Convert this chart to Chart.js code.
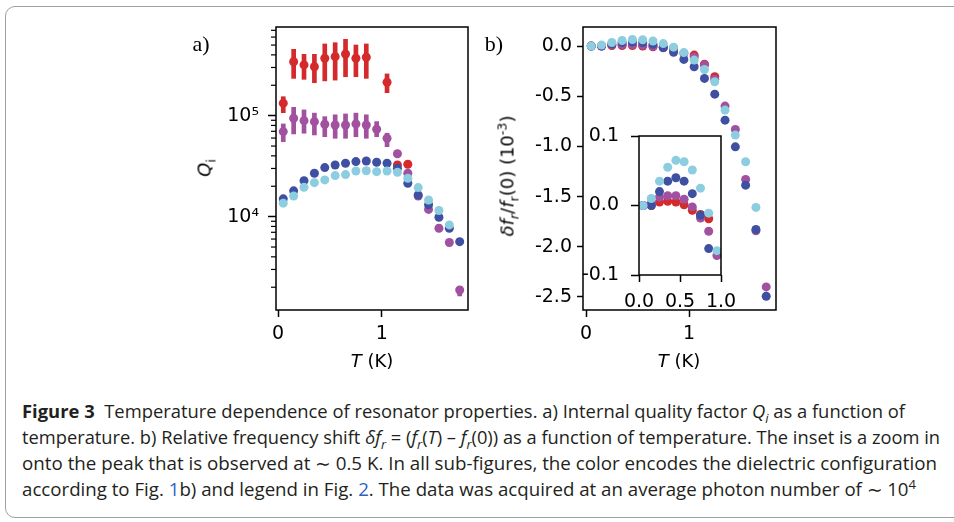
<!DOCTYPE html>
<html>
<head>
<meta charset="utf-8">
<script src="https://cdn.jsdelivr.net/npm/chart.js@4.4.1/dist/chart.umd.min.js"></script>
<style>
  body { margin:0; background:#fff; }
  #page { position:relative; width:954px; height:522px; overflow:hidden; background:#fff; }
  #frame { position:absolute; left:5px; top:6px; width:1000px; height:512px; border:1px solid #a0a0a0; border-radius:10px; box-sizing:border-box; }
  canvas { position:absolute; }
  .t { position:absolute; transform:translate(-50%,-50%); font-family:"DejaVu Sans"; font-size:18px; white-space:nowrap; color:#000; }
  .rot { transform:translate(-50%,-50%) rotate(-90deg); }
  .pl { font-family:"Liberation Serif"; font-size:22px; }
  .cap { position:absolute; left:22px; font-family:"Open Sans"; font-size:18px; line-height:26px; white-space:nowrap; color:#231f20; transform-origin:0 50%; }
  sub, sup { font-size:70%; line-height:0; }
  .lk { color:#2f62c4; }
</style>
</head>
<body>
<div id="page">
  <div id="frame"></div>
  <canvas id="chartA" width="290" height="350" style="left:190px;top:10px"></canvas>
  <canvas id="chartB" width="290" height="350" style="left:500px;top:10px"></canvas>
  <canvas id="chartIn" width="175" height="204" style="left:568px;top:114px"></canvas>

  <div class="t pl" style="left:201px;top:44px">a)</div>
  <div class="t pl" style="left:494px;top:44px">b)</div>
  <div class="t rot" style="left:204px;top:168px"><i>Q</i><sub>i</sub></div>
  <div class="t" style="left:372px;top:360px"><i>T</i> (K)</div>
  <div class="t" style="left:679px;top:360px"><i>T</i> (K)</div>
  <div class="t rot" style="left:507px;top:176px"><i>δf</i><sub><i>r</i></sub>/<i>f</i><sub>r</sub>(0) (10<sup>-3</sup>)</div>

  <div class="cap" style="top:398px"><b>Figure 3</b>&nbsp; Temperature dependence of resonator properties. a) Internal quality factor <i>Q<sub>i</sub></i> as a function of</div>
  <div class="cap" style="top:424px">temperature. b) Relative frequency shift <i>δf<sub>r</sub></i> = (<i>f<sub>r</sub></i>(<i>T</i>) – <i>f<sub>r</sub></i>(0)) as a function of temperature. The inset is a zoom in</div>
  <div class="cap" style="top:450px">onto the peak that is observed at ∼ 0.5 K. In all sub-figures, the color encodes the dielectric configuration</div>
  <div class="cap" style="top:476px">according to Fig. <span class="lk">1</span>b) and legend in Fig. <span class="lk">2</span>. The data was acquired at an average photon number of ∼ 10<sup>4</sup></div>
</div>
<script>
// temperatures (K), shared by all series
const temps = [0.05,0.15,0.25,0.35,0.45,0.55,0.65,0.75,0.85,0.95,1.05,1.15,1.25,1.35,1.45,1.55,1.65,1.75];

// panel a: internal quality factor
const qRed      = [1.33e5,3.42e5,3.18e5,3.05e5,3.70e5,3.84e5,4.08e5,3.70e5,3.79e5,null,2.14e5,3.25e4,3.30e4,null,null,null,null,null];
const qRedLo    = [1.07e5,2.34e5,2.29e5,2.12e5,2.21e5,2.25e5,2.43e5,2.43e5,2.34e5,null,1.69e5];
const qRedHi    = [1.54e5,4.54e5,4.05e5,4.05e5,5.13e5,5.28e5,5.70e5,5.01e5,5.13e5,null,2.59e5];
const qPurple   = [6.95e4,9.43e4,8.92e4,8.72e4,8.22e4,8.09e4,8.09e4,8.28e4,8.09e4,7.33e4,5.97e4,4.20e4,2.69e4,1.60e4,1.18e4,7.67e3,5.54e3,1.88e3];
const qPurpleLo = [5.53e4,6.59e4,6.70e4,6.44e4,6.19e4,5.97e4,5.97e4,6.19e4,5.97e4,6.19e4,4.93e4,null,null,null,null,null,null,1.64e3];
const qPurpleHi = [8.28e4,1.21e5,1.14e5,1.06e5,9.77e4,1.02e5,1.04e5,1.06e5,1.02e5,8.73e4,6.70e4,null,null,null,null,null,null,1.95e3];
const qDark     = [1.50e4,1.80e4,2.27e4,2.69e4,3.06e4,3.25e4,3.38e4,3.51e4,3.56e4,3.46e4,3.38e4,3.01e4,2.14e4,1.64e4,1.31e4,9.87e3,7.67e3,5.65e3];
const qLight    = [1.36e4,1.60e4,1.95e4,2.17e4,2.31e4,2.55e4,2.61e4,2.83e4,2.85e4,2.79e4,2.83e4,2.75e4,2.40e4,1.94e4,1.46e4,1.15e4,8.28e3,null];

// panel b: relative frequency shift (1e-3)
const dfRed    = [0.0,0.0,0.005,0.006,0.005,0.001,-0.007,-0.013,-0.019,null,-0.090,-0.180,-0.306,null,null,null,null,null];
const dfPurple = [0.0,0.003,0.012,0.014,0.014,0.009,-0.002,-0.018,-0.037,-0.072,-0.110,-0.189,-0.330,-0.598,-0.831,-1.329,-1.841,-2.400];
const dfDark   = [0.0,0.0,0.020,0.035,0.040,0.035,0.017,-0.014,-0.062,-0.133,-0.206,-0.322,-0.479,-0.738,-1.004,-1.386,-1.828,-2.493];
const dfLight  = [0.0,0.010,0.035,0.055,0.065,0.063,0.051,0.025,-0.011,-0.065,-0.140,-0.233,-0.356,-0.638,-0.887,-1.153,-1.608,null];

// ticks
const tTicks = [0, 1];
const tLabels = ['0', '1'];
const qTicks = [1e4, 1e5];
const qLabels = ['10⁴', '10⁵'];
const qMinor = [2e3,3e3,4e3,5e3,6e3,7e3,8e3,9e3,2e4,3e4,4e4,5e4,6e4,7e4,8e4,9e4,2e5,3e5,4e5,5e5,6e5,7e5];
const dfTicks = [0, -0.5, -1, -1.5, -2, -2.5];
const dfLabels = ['0.0', '-0.5', '-1.0', '-1.5', '-2.0', '-2.5'];
const inTTicks = [0, 0.5, 1];
const inTLabels = ['0.0', '0.5', '1.0'];
const inDfTicks = [-0.1, 0, 0.1];
const inDfLabels = ['-0.1', '0.0', '0.1'];

const cRed = '#d42a2c', cPurple = '#a1519f', cDark = '#3f50a3', cLight = '#8ccde0';
const tickFont = {family: 'DejaVu Sans', size: 19};

function pts(ys) {
  return temps.map((t, i) => ({x: t, y: ys[i]})).filter(p => p.y != null);
}
function bars(lo, hi) {
  return temps.map((t, i) => ({x: t, y: [lo[i], hi[i]]})).filter(p => p.y[0] != null);
}
function sc(data, color, clip) {
  return {type: 'scatter', data, backgroundColor: color, borderWidth: 0, pointRadius: 4.5, pointHoverRadius: 4.5, clip};
}
function eb(data, color) {
  return {type: 'bar', data, backgroundColor: color, barThickness: 4, grouped: false, clip: false};
}

function axis(o) {
  return {
    type: o.type || 'linear',
    position: o.position,
    min: o.min, max: o.max, offset: false, beginAtZero: false,
    afterBuildTicks: s => { s.ticks = o.ticks.map(v => ({value: v})); },
    // fixed axis size, and no extra room for end labels: layout padding decides
    afterFit: s => {
      if (o.position === 'left') { s.width = o.size; s.paddingTop = 0; s.paddingBottom = 0; }
      else { s.height = o.size; s.paddingLeft = 0; s.paddingRight = 0; }
    },
    border: {display: false},
    grid: {offset: false, drawOnChartArea: false, drawTicks: true, tickLength: o.tickLength, tickWidth: 1.5, tickColor: '#000'},
    ticks: {font: tickFont, color: '#000', padding: o.padding, maxRotation: 0, autoSkip: false, callback: (v, i) => o.labels[i]}
  };
}

// box round the plot area, taken from the scales
const frame = {
  id: 'frame',
  beforeDraw(chart, args, opts) {
    if (!opts.fill) return;
    const x = chart.scales.x, y = chart.scales.y, ctx = chart.ctx;
    ctx.save(); ctx.fillStyle = '#fff'; ctx.fillRect(x.left, y.top, x.right - x.left, y.bottom - y.top); ctx.restore();
  },
  afterDraw(chart) {
    const x = chart.scales.x, y = chart.scales.y, ctx = chart.ctx;
    ctx.save(); ctx.strokeStyle = '#000'; ctx.lineWidth = 1.5; ctx.setLineDash([]);
    ctx.beginPath();
    ctx.rect(x.left, y.top, x.right - x.left, y.bottom - y.top);
    ctx.stroke(); ctx.restore();
  }
};

const minorTicks = {
  id: 'minorTicks',
  afterDraw(chart) {
    const s = chart.scales.y, ctx = chart.ctx;
    ctx.save(); ctx.strokeStyle = '#000'; ctx.lineWidth = 1.2;
    qMinor.forEach(v => {
      const y = s.getPixelForValue(v);
      ctx.beginPath(); ctx.moveTo(s.right - 5, y); ctx.lineTo(s.right, y); ctx.stroke();
    });
    ctx.restore();
  }
};

const base = {responsive: false, animation: false, events: []};

new Chart(document.getElementById('chartA'), {
  type: 'scatter',
  data: {datasets: [
    sc(pts(qLight), cLight, false),
    sc(pts(qDark), cDark, false),
    sc(pts(qPurple), cPurple, false),
    eb(bars(qPurpleLo, qPurpleHi), cPurple),
    sc(pts(qRed), cRed, false),
    eb(bars(qRedLo, qRedHi), cRed)
  ]},
  options: Object.assign({}, base, {
    layout: {padding: {left: 0, top: 17, right: 12, bottom: 0}},
    plugins: {legend: {display: false}, tooltip: {enabled: false}, frame: {}},
    scales: {
      x: axis({position: 'bottom', min: -0.02, max: 1.83, ticks: tTicks, labels: tLabels, size: 50, tickLength: 7, padding: 6}),
      y: axis({type: 'logarithmic', position: 'left', min: 1190, max: 7.55e5, ticks: qTicks, labels: qLabels, size: 86, tickLength: 8, padding: 9})
    }
  }),
  plugins: [frame, minorTicks]
});

new Chart(document.getElementById('chartB'), {
  type: 'scatter',
  data: {datasets: [
    sc(pts(dfLight), cLight, false),
    sc(pts(dfDark), cDark, false),
    sc(pts(dfPurple), cPurple, false),
    sc(pts(dfRed), cRed, false)
  ]},
  options: Object.assign({}, base, {
    layout: {padding: {left: 0, top: 17, right: 14, bottom: 0}},
    plugins: {legend: {display: false}, tooltip: {enabled: false}, frame: {}},
    scales: {
      x: axis({position: 'bottom', min: -0.03, max: 1.845, ticks: tTicks, labels: tLabels, size: 50, tickLength: 7, padding: 6}),
      y: axis({position: 'left', min: -2.63, max: 0.19, ticks: dfTicks, labels: dfLabels, size: 83, tickLength: 6, padding: 5})
    }
  }),
  plugins: [frame]
});

new Chart(document.getElementById('chartIn'), {
  type: 'scatter',
  data: {datasets: [
    sc(pts(dfLight), cLight, 0),
    sc(pts(dfDark), cDark, 0),
    sc(pts(dfPurple), cPurple, 0),
    sc(pts(dfRed), cRed, 0)
  ]},
  options: Object.assign({}, base, {
    layout: {padding: {left: 0, top: 22, right: 22, bottom: 0}},
    plugins: {legend: {display: false}, tooltip: {enabled: false}, frame: {fill: true}},
    scales: {
      x: axis({position: 'bottom', min: 0, max: 1, ticks: inTTicks, labels: inTLabels, size: 43, tickLength: 7, padding: 9}),
      y: axis({position: 'left', min: -0.1, max: 0.1, ticks: inDfTicks, labels: inDfLabels, size: 71, tickLength: 8, padding: 12})
    }
  }),
  plugins: [frame]
});

// stretch caption lines to the widths of the printed caption
const capWidths = [883, 918, 915, 894];
document.querySelectorAll('.cap').forEach((el, i) => {
  const w = el.getBoundingClientRect().width;
  el.style.transform = 'scaleX(' + (capWidths[i] / w) + ')';
});
</script>
</body>
</html>
